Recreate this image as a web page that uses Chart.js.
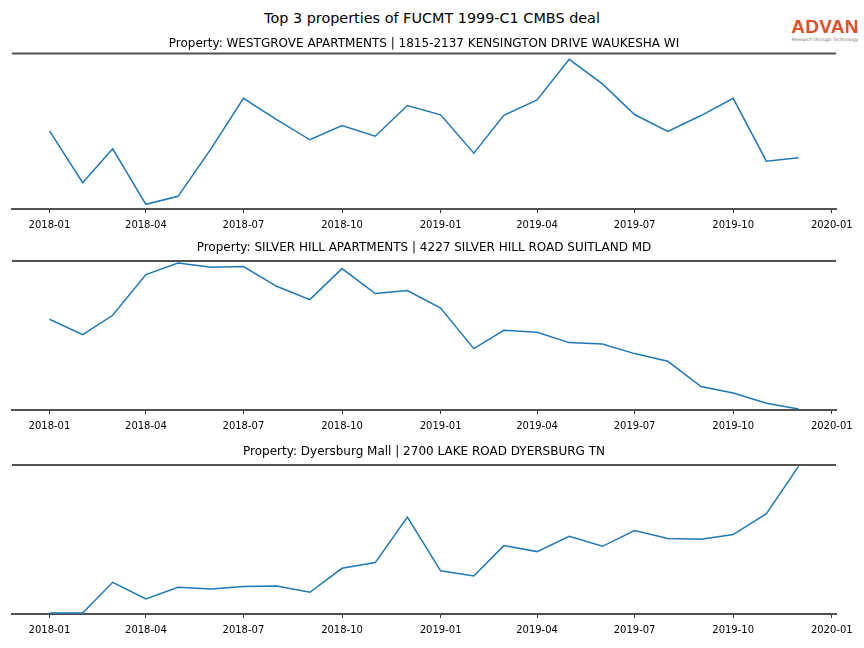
<!DOCTYPE html>
<html>
<head>
<meta charset="utf-8">
<script src="https://cdn.jsdelivr.net/npm/chart.js@4/dist/chart.umd.min.js"></script>
<style>
body { margin: 0; background: #fff; font-family: "DejaVu Sans", sans-serif; }
#page { position: relative; width: 864px; height: 648px; overflow: hidden; }
canvas { position: absolute; left: 0; display: block; }
#main_title { position: absolute; left: 0; width: 864px; top: 10px; text-align: center; font-size: 14.4px; color: #000; }
#logo { position: absolute; left: 789px; top: 17px; width: 72px; text-align: center; }
#logo .name { font-size: 19px; font-weight: bold; color: #df4e25; letter-spacing: 0.3px; line-height: 20px; font-family: "Liberation Sans", sans-serif; }
#logo .tag { font-size: 4.5px; color: #777; line-height: 6px; white-space: nowrap; }
</style>
</head>
<body>
<div id="page">
	<div id="main_title">Top 3 properties of FUCMT 1999-C1 CMBS deal</div>
	<div id="logo"><div class="name">ADVAN</div><div class="tag">Research through Technology</div></div>
	<canvas id="chart_1" width="864" height="209" style="top:30px"></canvas>
	<canvas id="chart_2" width="864" height="205" style="top:235px"></canvas>
	<canvas id="chart_3" width="864" height="205" style="top:439px"></canvas>
</div>
<script>
var months = ['2018-01', '2018-02', '2018-03', '2018-04', '2018-05', '2018-06',
			'2018-07', '2018-08', '2018-09', '2018-10', '2018-11', '2018-12',
			'2019-01', '2019-02', '2019-03', '2019-04', '2019-05', '2019-06',
			'2019-07', '2019-08', '2019-09', '2019-10', '2019-11', '2019-12'];

var tick_labels = ['2018-01', '2018-04', '2018-07', '2018-10', '2019-01', '2019-04', '2019-07', '2019-10', '2020-01'];

var titles = ['Property: WESTGROVE APARTMENTS | 1815-2137 KENSINGTON DRIVE WAUKESHA WI',
			'Property: SILVER HILL APARTMENTS | 4227 SILVER HILL ROAD SUITLAND MD',
			'Property: Dyersburg Mall | 2700 LAKE ROAD DYERSBURG TN'];

// relative activity
var westgrove = [78.4, 26.4, 60.4, 4.7, 12.7, 60.7, 111, 89.7, 69.4, 83.7, 73, 103.7,
				94.4, 56, 94, 109.4, 150, 125.4, 94.7, 77.7, 93.7, 111, 48, 51.4];
var silver_hill = [90.7, 75.4, 94.7, 135.4, 147, 142.7, 143.4, 123.7, 110.4, 141.4, 116.4, 119.4,
				102, 61.4, 79.7, 77.7, 67.4, 66, 56.4, 48.7, 23.4, 17, 6.7, 1];
var dyersburg = [1, 1, 31.7, 15, 26.7, 25, 27.4, 28, 21.7, 45.7, 51.4, 97,
				43.2, 38, 68.4, 62.4, 77.7, 67.7, 83.4, 75.4, 74.7, 79.4, 100.4, 147.7];

var y_max = [156, 149, 149];
var title_pad = [{top: 7, bottom: 2}, {top: 6, bottom: 5.6}, {top: 6, bottom: 5.6}];

var line_colour = '#1f77b4';
var spine_colour = '#505050';

function dayOf(s)
{
	var p = s.split('-');
	return (Date.UTC(+p[0], +p[1] - 1, 1) - Date.UTC(2018, 0, 1)) / 86400000;
}

// matplotlib only shows top and bottom spines
var topSpine = {
	id: 'topSpine',
	afterDraw: function(chart)
	{
		var a = chart.chartArea, ctx = chart.ctx;
		ctx.save();
		ctx.strokeStyle = spine_colour;
		ctx.lineWidth = 2;
		ctx.beginPath();
		ctx.moveTo(a.left, a.top);
		ctx.lineTo(a.right, a.top);
		ctx.stroke();
		ctx.restore();
	}
};

function makeChart(id, series, index)
{
	var points = months.map(function(m, i) { return {x: dayOf(m), y: series[i]}; });
	var margin = (dayOf(months[months.length - 1]) - dayOf(months[0])) * 0.05;

	return new Chart(document.getElementById(id).getContext('2d'), {
		type: 'line',
		data: {
			datasets: [{
				data: points,
				borderColor: line_colour,
				borderWidth: 1.5,
				pointRadius: 0,
				tension: 0,
				fill: false
			}]
		},
		plugins: [topSpine],
		options: {
			responsive: false,
			animation: false,
			layout: { padding: { left: 12, right: 28, top: 0, bottom: 2 } },
			plugins: {
				legend: { display: false },
				tooltip: { enabled: false },
				title: {
					display: true,
					text: titles[index],
					color: '#000',
					font: { family: 'DejaVu Sans', size: 12, weight: 'normal' },
					padding: title_pad[index]
				}
			},
			scales: {
				x: {
					type: 'linear',
					min: dayOf(months[0]) - margin,
					max: dayOf(months[months.length - 1]) + margin,
					afterBuildTicks: function(axis)
					{
						axis.ticks = tick_labels.map(function(t) { return {value: dayOf(t)}; });
					},
					grid: { drawOnChartArea: false, drawTicks: true, tickLength: 4, color: '#333', tickWidth: 1 },
					border: { display: true, color: spine_colour, width: 2 },
					ticks: {
						autoSkip: false,
						maxRotation: 0,
						padding: 6,
						color: '#000',
						font: { family: 'DejaVu Sans', size: 10 },
						callback: function(value, i) { return tick_labels[i]; }
					}
				},
				y: {
					display: false,
					min: 0,
					max: y_max[index]
				}
			}
		}
	});
}

makeChart('chart_1', westgrove, 0);
makeChart('chart_2', silver_hill, 1);
makeChart('chart_3', dyersburg, 2);
</script>
</body>
</html>
